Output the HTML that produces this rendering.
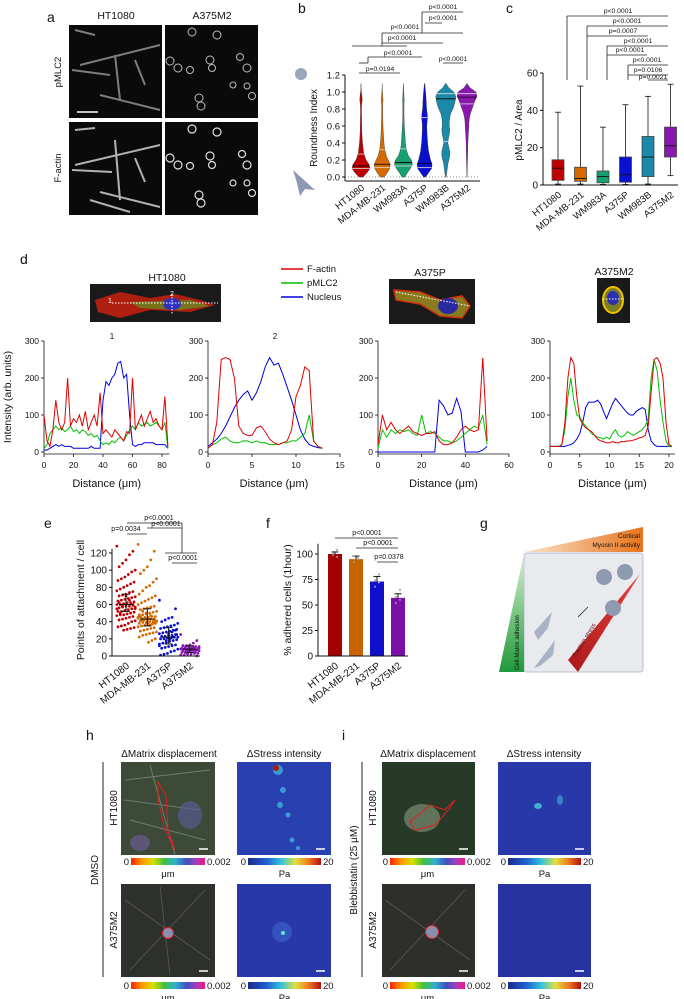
<!DOCTYPE html>
<html><head><meta charset="utf-8"><style>
html,body{margin:0;padding:0;background:#fff;}
svg{display:block;font-family:"Liberation Sans",Arial,sans-serif;}
text{fill:#111;}
</style></head><body>
<svg id="fig" width="684" height="999" viewBox="0 0 684 999" xmlns="http://www.w3.org/2000/svg">
<defs>
<linearGradient id="gDisp" x1="0" x2="1" y1="0" y2="0"><stop offset="0" stop-color="#ff2000"/><stop offset="0.15" stop-color="#ff9900"/><stop offset="0.3" stop-color="#d8e000"/><stop offset="0.45" stop-color="#40c040"/><stop offset="0.6" stop-color="#30b0d0"/><stop offset="0.75" stop-color="#4050c0"/><stop offset="0.88" stop-color="#a040c0"/><stop offset="1" stop-color="#ff1080"/></linearGradient>
<linearGradient id="gStress" x1="0" x2="1" y1="0" y2="0"><stop offset="0" stop-color="#1a2a8c"/><stop offset="0.25" stop-color="#2060d0"/><stop offset="0.45" stop-color="#30c0e0"/><stop offset="0.65" stop-color="#e0e040"/><stop offset="0.82" stop-color="#f08020"/><stop offset="1" stop-color="#b01010"/></linearGradient>
<linearGradient id="gOrange" x1="0" x2="1"><stop offset="0" stop-color="#fbe3cc"/><stop offset="1" stop-color="#e8741a"/></linearGradient>
<linearGradient id="gGreen" x1="0" x2="0" y1="0" y2="1"><stop offset="0" stop-color="#d7f0d0"/><stop offset="1" stop-color="#1f9a3a"/></linearGradient>
<linearGradient id="gRed" x1="1" x2="0" y1="0" y2="1"><stop offset="0" stop-color="#e84040"/><stop offset="1" stop-color="#a81818"/></linearGradient>
</defs>

<g font-size="14">
<text x="47" y="22">a</text>
<text x="298" y="13">b</text>
<text x="506" y="13">c</text>
<text x="20" y="264">d</text>
<text x="44" y="528">e</text>
<text x="266" y="528">f</text>
<text x="480" y="528">g</text>
<text x="86" y="740">h</text>
<text x="342" y="740">i</text>
</g>

<g>
<text x="116" y="19" font-size="10.5" text-anchor="middle">HT1080</text>
<text x="212" y="19" font-size="10.5" text-anchor="middle">A375M2</text>
<text transform="translate(61,72) rotate(-90)" font-size="9.5" text-anchor="middle">pMLC2</text>
<text transform="translate(61,168) rotate(-90)" font-size="9.5" text-anchor="middle">F-actin</text>
<g>
<rect x="69" y="25" width="93" height="93" fill="#0a0a0a"/>
<g stroke="#9a9a9a" stroke-width="2" fill="none" opacity="0.8"><path d="M80 65 L160 45"/><path d="M115 55 L120 100"/><path d="M72 70 L110 75"/><path d="M100 95 L160 110"/><path d="M135 60 L145 85"/><path d="M75 30 L95 35"/></g>
<line x1="77" y1="112" x2="98" y2="112" stroke="#fff" stroke-width="1.5"/>
</g>
<g>
<rect x="165" y="25" width="93" height="93" fill="#0a0a0a"/>
<g stroke="#bbb" stroke-width="1" fill="none"><circle cx="192" cy="32" r="4"/><circle cx="217" cy="35" r="4"/><circle cx="170" cy="61" r="4"/><circle cx="178" cy="68" r="4"/><circle cx="190" cy="70" r="3.5"/><circle cx="210" cy="60" r="4"/><circle cx="212" cy="68" r="3.5"/><circle cx="240" cy="57" r="3.5"/><circle cx="247" cy="68" r="4"/><circle cx="233" cy="85" r="3"/><circle cx="247" cy="86" r="3"/><circle cx="252" cy="96" r="3.5"/><circle cx="199" cy="98" r="4"/><circle cx="201" cy="106" r="4"/></g>
</g>
<g>
<rect x="69" y="122" width="93" height="93" fill="#0a0a0a"/>
<g stroke="#d0d0d0" stroke-width="2" fill="none" opacity="0.85"><path d="M75 165 L160 145"/><path d="M115 140 L120 200"/><path d="M72 170 L112 172"/><path d="M100 192 L160 207"/><path d="M135 158 L145 182"/><path d="M75 130 L95 128"/><path d="M90 200 L130 212"/></g>
</g>
<g>
<rect x="165" y="122" width="93" height="93" fill="#0a0a0a"/>
<g stroke="#e0e0e0" stroke-width="1.2" fill="none"><circle cx="192" cy="129" r="4"/><circle cx="217" cy="132" r="4"/><circle cx="170" cy="158" r="4"/><circle cx="178" cy="165" r="4"/><circle cx="190" cy="166" r="3.5"/><circle cx="210" cy="156" r="4"/><circle cx="212" cy="165" r="3.5"/><circle cx="242" cy="154" r="3.5"/><circle cx="247" cy="165" r="4"/><circle cx="233" cy="183" r="3"/><circle cx="247" cy="183" r="3"/><circle cx="252" cy="193" r="3.5"/><circle cx="199" cy="195" r="4"/><circle cx="201" cy="203" r="4"/></g>
</g>
</g>

<g>
<circle cx="301" cy="74" r="6" fill="#9aa6bd"/>
<path d="M293 170 L315 190 L305 189 L300 196 L297 183 Z" fill="#8c98b4"/>
</g>
<g id="panelB"></g>
<g id="panelC"></g>

<g>
<text x="167" y="281" font-size="10.5" text-anchor="middle">HT1080</text>
<g>
<rect x="90" y="284" width="131" height="38" fill="#1a1a1a"/>
<path d="M95 300 L120 292 L150 298 L175 294 L200 300 L215 305 L190 312 L150 310 L120 318 L98 312 Z" fill="#c02010" opacity="0.9"/>
<path d="M130 302 L190 300 L210 306 L180 310 L140 308 Z" fill="#6a8a20" opacity="0.8"/>
<ellipse cx="172" cy="304" rx="9" ry="6" fill="#3030c0"/>
<line x1="112" y1="303" x2="218" y2="303" stroke="#fff" stroke-dasharray="1.5,1.5" stroke-width="1"/>
<line x1="172" y1="294" x2="172" y2="314" stroke="#fff" stroke-dasharray="1.5,1.5" stroke-width="1"/>
<text x="108" y="303" font-size="7" style="fill:#fff">1</text>
<text x="170" y="296" font-size="7" style="fill:#fff">2</text>
</g>
<g>
<line x1="281" y1="269" x2="303" y2="269" stroke="#e00000" stroke-width="1.5"/>
<text x="307" y="272" font-size="9.5">F-actin</text>
<line x1="281" y1="283" x2="303" y2="283" stroke="#00c000" stroke-width="1.5"/>
<text x="307" y="286" font-size="9.5">pMLC2</text>
<line x1="281" y1="297" x2="303" y2="297" stroke="#0000e0" stroke-width="1.5"/>
<text x="307" y="300" font-size="9.5">Nucleus</text>
</g>
<text x="430" y="276" font-size="10.5" text-anchor="middle">A375P</text>
<g>
<rect x="389" y="279" width="86" height="45" fill="#1a1a1a"/>
<path d="M394 290 L420 292 L440 300 L462 296 L470 306 L462 318 L440 316 L420 304 L396 300 Z" fill="#8a7a20" stroke="#d03010" stroke-width="1.5"/>
<ellipse cx="448" cy="306" rx="10" ry="8" fill="#2a2aa0"/>
<line x1="396" y1="292" x2="470" y2="306" stroke="#fff" stroke-dasharray="1.5,1.5"/>
</g>
<text x="614" y="275" font-size="10.5" text-anchor="middle">A375M2</text>
<g>
<rect x="597" y="278" width="33" height="45" fill="#1a1a1a"/>
<ellipse cx="613" cy="300" rx="10" ry="13" fill="#7a8020" stroke="#f0c000" stroke-width="2"/>
<ellipse cx="613" cy="298" rx="6" ry="7" fill="#2a30b0"/>
<line x1="603" y1="299" x2="624" y2="299" stroke="#fff" stroke-dasharray="1.5,1.5"/>
</g>
<text x="112" y="339" font-size="8" text-anchor="middle">1</text>
<text x="275" y="339" font-size="8" text-anchor="middle">2</text>
<text transform="translate(11,397) rotate(-90)" font-size="10.5" text-anchor="middle">Intensity (arb. units)</text>
</g>
<g id="panelD"></g>
<g id="panelE"></g>
<g id="panelF"></g>

<g>
<polygon points="524,552 643,527 643,552" fill="url(#gOrange)"/>
<text x="640" y="538" font-size="6.5" text-anchor="end">Cortical</text>
<text x="640" y="547" font-size="6.5" text-anchor="end">Myosin II activity</text>
<rect x="524" y="553" width="119" height="119" rx="3" fill="#e9eaee" stroke="#b8c0d0"/>
<polygon points="499,672 524,553 524,672" fill="url(#gGreen)"/>
<text transform="translate(519,670) rotate(-90)" font-size="6">Cell-Matrix adhesion</text>
<polygon points="568,660 640,574 578,672" fill="url(#gRed)"/>
<text transform="translate(575,658) rotate(-58)" font-size="6" style="fill:#5a1010">Traction stress</text>
<g fill="#8d9ab0"><circle cx="604" cy="577" r="8"/><circle cx="625" cy="572" r="8"/><circle cx="613" cy="608" r="8"/></g>
<g fill="#a8b2c4"><path d="M534 632 L552 612 L548 628 L538 640 Z"/><path d="M534 668 L555 640 L553 655 L540 666 Z"/></g>
<line x1="578" y1="617" x2="588" y2="607" stroke="#222" stroke-width="0.8"/>
</g>

<g font-size="10">
<text x="169" y="757" text-anchor="middle">ΔMatrix displacement</text>
<text x="284" y="757" text-anchor="middle">ΔStress intensity</text>
<line x1="103" y1="762" x2="103" y2="977" stroke="#222"/>
<text transform="translate(98,870) rotate(-90)" text-anchor="middle">DMSO</text>
<text transform="translate(117,808) rotate(-90)" text-anchor="middle">HT1080</text>
<text transform="translate(117,930) rotate(-90)" text-anchor="middle">A375M2</text>
<g><rect x="121" y="762" width="94" height="93" fill="#3d4a38"/><g stroke="#8aa090" stroke-width="1" opacity="0.6" fill="none"><path d="M125 780 L210 770"/><path d="M130 820 L205 840"/><path d="M150 765 L175 855"/><path d="M124 800 L200 810"/></g><ellipse cx="190" cy="815" rx="12" ry="14" fill="#5a5a90" opacity="0.7"/><ellipse cx="140" cy="843" rx="10" ry="8" fill="#6a5a90" opacity="0.7"/><path d="M158 782 L166 795 L168 830 L175 850 L165 830 L158 800 Z" fill="none" stroke="#e02020"/><line x1="199" y1="849" x2="208" y2="849" stroke="#fff" stroke-width="1.5"/></g>
<g><rect x="237" y="762" width="94" height="93" fill="#2840b0"/><g fill="#40b0e0" opacity="0.8"><circle cx="278" cy="770" r="5"/><circle cx="283" cy="790" r="3"/><circle cx="280" cy="805" r="3"/><circle cx="288" cy="815" r="2.5"/><circle cx="292" cy="840" r="2.5"/><circle cx="298" cy="848" r="2"/></g><circle cx="276" cy="768" r="3" fill="#a02010"/><line x1="316" y1="849" x2="325" y2="849" stroke="#fff" stroke-width="1.5"/></g>
<g><rect x="121" y="884" width="94" height="93" fill="#2e302c"/><g stroke="#777" stroke-width="0.8" opacity="0.6"><path d="M125 900 L210 960"/><path d="M130 970 L205 890"/><path d="M160 886 L170 975"/></g><circle cx="168" cy="933" r="5.5" fill="#8890b0" stroke="#e02020"/><line x1="199" y1="971" x2="208" y2="971" stroke="#fff" stroke-width="1.5"/></g>
<g><rect x="237" y="884" width="94" height="93" fill="#2838a8"/><circle cx="282" cy="932" r="10" fill="#3a60c8" opacity="0.7"/><circle cx="283" cy="933" r="2" fill="#60e0e0"/><line x1="316" y1="971" x2="325" y2="971" stroke="#fff" stroke-width="1.5"/></g>
</g>
<g font-size="10">
<text x="428" y="757" text-anchor="middle">ΔMatrix displacement</text>
<text x="544" y="757" text-anchor="middle">ΔStress intensity</text>
<line x1="362" y1="762" x2="362" y2="977" stroke="#222"/>
<text transform="translate(357,870) rotate(-90)" text-anchor="middle">Blebbistatin (25 μM)</text>
<text transform="translate(376,808) rotate(-90)" text-anchor="middle">HT1080</text>
<text transform="translate(376,930) rotate(-90)" text-anchor="middle">A375M2</text>
<g><rect x="382" y="762" width="93" height="93" fill="#273a27"/><ellipse cx="422" cy="818" rx="18" ry="14" fill="#8a9a80" opacity="0.6"/><path d="M410 822 L430 805 L445 810 L455 800 L450 808 L435 825 L415 830 Z" fill="none" stroke="#e02020"/><line x1="459" y1="849" x2="468" y2="849" stroke="#fff" stroke-width="1.5"/></g>
<g><rect x="498" y="762" width="93" height="93" fill="#2838a8"/><ellipse cx="538" cy="806" rx="4" ry="3" fill="#40b0d0"/><ellipse cx="560" cy="800" rx="3" ry="5" fill="#3a80c8"/><line x1="575" y1="849" x2="584" y2="849" stroke="#fff" stroke-width="1.5"/></g>
<g><rect x="382" y="884" width="93" height="93" fill="#2e2f2b"/><g stroke="#777" stroke-width="0.8" opacity="0.6"><path d="M385 900 L470 960"/><path d="M390 970 L465 890"/></g><circle cx="432" cy="932" r="6.5" fill="#8890b0" stroke="#e02020"/><line x1="459" y1="971" x2="468" y2="971" stroke="#fff" stroke-width="1.5"/></g>
<g><rect x="498" y="884" width="93" height="93" fill="#2532a0"/><line x1="575" y1="971" x2="584" y2="971" stroke="#fff" stroke-width="1.5"/></g>
</g>
<g id="colorbars" font-size="9.5"></g>

<script>
// ---------- Panel b data ----------
const bCategories = ["HT1080","MDA-MB-231","WM983A","A375P","WM983B","A375M2"];
const bLevels = [0,0.05,0.1,0.15,0.2,0.25,0.3,0.35,0.4,0.45,0.5,0.55,0.6,0.65,0.7,0.75,0.8,0.85,0.9,0.95,1.0,1.05,1.1];
const bDensHT1080 = [2,6,9,8,5,3.5,2.5,2,1.5,1.2,1,0.8,0.7,0.6,0.6,0.5,0.5,0.6,1.2,1.0,0.4,0.1,0];
const bDensMDA = [2,5,7.5,8,6,4,3,2.2,1.8,1.5,1.2,1,0.8,0.7,0.6,0.5,0.5,0.5,0.8,0.6,0.3,0.1,0];
const bDensWM983A = [1.5,4,7,9,8,5,3.5,2.5,2,1.8,1.5,1.2,1,0.8,0.7,0.6,0.6,0.6,0.8,0.6,0.4,0.2,0];
const bDensA375P = [1,4,7,7.5,6,5,4,3.5,3,2.8,2.5,2.3,2.2,2.5,3,2.6,2,1.8,1.6,1.3,1,0.6,0.2];
const bDensWM983B = [0.3,1,1.5,2,3,4,4,3,2,2.5,3.5,4,3.5,3.5,4,5,7,8.5,9.5,10,8,3,0.3];
const bDensA375M2 = [0.1,0.2,0.3,0.4,0.5,0.6,0.7,0.8,0.9,1.1,1.3,1.6,1.8,2,2.5,3.5,5,6.5,8,10,9,3,0];
const bMedians = [0.13,0.15,0.17,0.16,0.92,0.94];
const bQ1 = [0.10,0.11,0.13,0.11,0.42,0.86];
const bQ3 = [0.27,0.32,0.33,0.70,0.98,0.98];
const bTicks = [0,0.2,0.4,0.6,0.8,1.0,1.2];
const colors = ["#c00000","#d46a00","#18a070","#0a10d0","#1a8aa8","#8a18b0"];

// ---------- Panel c data ----------
const cCategories = ["HT1080","MDA-MB-231","WM983A","A375P","WM983B","A375M2"];
const cMin = [0.5,0.5,0.3,0.3,0.5,5];
const cQ1 = [2.5,2,1.2,1.5,4.5,15];
const cMed = [9,3.5,4.5,5.5,15,21];
const cQ3 = [13.5,9.5,7.5,15,26,31];
const cMax = [39,53,31,43,47.5,54];
const cTicks = [0,20,40,60];

// ---------- Panel d data ----------
const d1Step = 2;
const d1Red = [100,30,15,60,140,80,60,80,200,70,90,80,100,70,110,60,80,100,70,160,50,60,50,40,60,50,40,30,55,50,200,60,80,100,70,90,110,80,90,70,60,150,15];
const d1Green = [10,20,50,60,70,60,65,55,60,70,55,60,50,60,55,45,50,40,45,30,20,25,20,30,25,35,40,30,45,60,70,60,80,70,75,80,70,75,80,70,60,80,10];
const d1Blue = [5,5,10,15,20,15,20,15,15,15,10,10,10,10,10,10,15,10,10,10,140,190,180,200,210,240,245,200,210,100,20,15,20,20,25,25,25,25,20,20,20,20,10];
const d2Step = 0.5;
const d2Red = [10,20,80,250,255,250,200,70,50,45,45,65,70,55,35,25,20,25,30,60,150,180,230,220,30,15,10];
const d2Green = [10,20,25,35,40,30,25,25,30,30,25,30,25,25,20,20,20,25,25,30,30,40,50,100,30,15,10];
const d2Blue = [15,25,35,50,70,95,120,140,155,165,140,160,190,230,255,235,240,210,175,140,100,60,35,20,15,12,10];
const d3Step = 2;
const d3Red = [20,100,60,80,60,50,60,70,55,50,45,50,50,55,30,20,20,25,40,60,70,60,55,60,255,30];
const d3Green = [10,60,40,60,50,60,55,60,50,45,100,50,55,50,40,30,30,25,30,40,50,60,70,65,100,20];
const d3Blue = [0,0,0,0,0,0,0,0,0,0,0,0,0,0,140,125,100,105,145,110,0,0,0,0,5,15];
const d4Step = 0.5;
const d4Red = [15,15,15,15,20,80,200,255,240,150,90,75,65,60,55,45,35,30,28,25,25,28,25,25,28,28,30,30,32,35,38,40,45,70,160,250,255,240,200,80,20,15];
const d4Green = [15,15,15,15,20,60,150,200,140,100,95,80,70,60,50,45,40,38,35,40,35,50,60,45,40,45,55,50,45,50,55,60,70,90,200,250,220,140,80,30,15,15];
const d4Blue = [15,15,15,15,15,15,18,20,25,35,50,80,120,135,135,135,140,130,110,90,110,130,145,135,125,115,105,100,100,110,115,120,115,60,30,20,15,15,15,15,15,15];
const dYTicks = [0,100,200,300];
const d1XTicks = [0,20,40,60,80];
const d2XTicks = [0,5,10,15];
const d3XTicks = [0,20,40,60];
const d4XTicks = [0,5,10,15,20];

// ---------- Panel e data ----------
const eCategories = ["HT1080","MDA-MB-231","A375P","A375M2"];
const eHT1080 = [128,122,118,112,108,104,100,98,95,92,90,88,86,84,82,80,78,76,75,74,72,71,70,69,68,67,66,65,64,63,62,62,61,60,60,59,58,58,57,56,55,55,54,53,52,52,51,50,49,48,48,47,46,45,44,43,42,41,40,38,36,35,34,33,32,31,30,50,55,60,65,70,58,62,57];
const eMDA = [130,122,112,104,100,96,90,86,82,80,76,72,70,68,66,64,62,60,58,57,56,55,54,52,51,50,49,48,47,46,46,45,45,44,44,43,43,42,42,41,41,40,40,39,39,38,38,37,37,36,35,34,33,32,31,30,29,28,27,26,25,24,22,20,18,16,44,42,45,41,47,39,43,46,40,38,36,50,52,48];
const eA375P = [65,55,45,44,42,40,38,36,35,34,33,32,31,30,29,28,27,26,25,24,24,23,23,22,22,21,21,20,20,19,18,17,16,15,14,13,12,11,10,9,8,6,5,3,2,1,25,22,20,18,15,12,30,28,26];
const eA375M2 = [25,18,15,13,12,12,11,11,10,10,10,9,9,9,8,8,8,8,7,7,7,6,6,6,5,5,5,4,4,3,3,2,2,1,1,0,10,8,6,12,9,7];
const eMedian = [60,43,22,8];
const eLow = [52,35,14,4];
const eHigh = [72,55,33,12];
const eTicks = [0,20,40,60,80,100,120];

// ---------- Panel f data ----------
const fCategories = ["HT1080","MDA-MB-231","A375P","A375M2"];
const fMeans = [100,95,73,57];
const fSem = [2,3,5,4];
const fReps1 = [101,97,99,104];
const fReps2 = [92,97,98,95];
const fReps3 = [68,72,74,80];
const fReps4 = [52,55,58,65];
const fTicks = [0,25,50,75,100];

const NS = "http://www.w3.org/2000/svg";
function mk(tag, attrs, parent){ const el=document.createElementNS(NS,tag); for(const k in attrs) el.setAttribute(k,attrs[k]); parent.appendChild(el); return el; }
function txt(str, attrs, parent){ const t=mk("text",attrs,parent); t.textContent=str; return t; }
const FS = "9.5";

// ===== Panel b =====
(function(){
  const g=document.getElementById("panelB");
  const ax=345, xEnd=480;
  const y=v=>177-v*85;
  const x=i=>361+i*21.2;
  const dens=[bDensHT1080,bDensMDA,bDensWM983A,bDensA375P,bDensWM983B,bDensA375M2];
  let l=mk("line",{x1:ax,y1:y(0),x2:xEnd,y2:y(0),stroke:"#888","stroke-dasharray":"1,2"},g);
  
  
  dens.forEach((d,i)=>{
    let pts=[];
    d.forEach((w,k)=>pts.push([x(i)+w,y(bLevels[k])]));
    for(let k=d.length-1;k>=0;k--) pts.push([x(i)-d[k],y(bLevels[k])]);
    const p=mk("path",{d:"M"+pts.map(q=>q[0].toFixed(1)+" "+q[1].toFixed(1)).join(" L")+" Z",fill:colors[i],stroke:"#333","stroke-width":"0.4"},g);
    
    
    const interp=v=>{const k=Math.min(d.length-2,Math.floor(v/0.05));const f=(v-bLevels[k])/0.05;return d[k]+(d[k+1]-d[k])*f;};
    [[bQ1[i],"#ddd"],[bQ3[i],"#ddd"],[bMedians[i],"#000"]].forEach(([v,c],j)=>{
      const w=interp(v);
      const ln=mk("line",{x1:x(i)-w,x2:x(i)+w,y1:y(v),y2:y(v),stroke:c,"stroke-width":"0.8"},g);
      
      
    });
    const t=txt(bCategories[i],{x:x(i)+4,y:189,"font-size":FS,"text-anchor":"end",transform:`rotate(-38 ${x(i)+4} 189)`},g);
    
    
  });
  l=mk("line",{x1:ax,y1:y(1.2),x2:ax,y2:y(0)+4,stroke:"#111"},g);
  
  
  l=mk("line",{x1:ax,y1:y(0)+4,x2:xEnd,y2:y(0)+4,stroke:"#111"},g);
  
  
  bTicks.forEach(v=>{
    mk("line",{x1:ax-3,x2:ax,y1:y(v),y2:y(v),stroke:"#111"},g);
    const t=txt(v.toFixed(1),{x:ax-5,y:y(v)+3.5,"font-size":FS,"text-anchor":"end"},g);
    
    
  });
  const tt=txt("Roundness Index",{transform:"translate(317,128) rotate(-90)","font-size":"10","text-anchor":"middle"},g);
  
  
  const seg=[[422,12,463,12],[422,12,422,33],[425,23,442,23],[382,33,463,33],[382,33,382,46],[382,43,443,43],[352,46,407,46],[368,57,422,57],[368,57,368,63],[359,63,368,63],[359,73,400,73],[443,63,463,63]];
  seg.forEach(s=>{const a=mk("line",{x1:s[0],y1:s[1],x2:s[2],y2:s[3],stroke:"#222","stroke-width":"0.8"},g);});
  const pv=[["p<0.0001",443,9],["p<0.0001",443,20],["p<0.0001",405,29],["p<0.0001",402,40],["p<0.0001",398,55],["p=0.0194",380,71],["p<0.0001",453,61]];
  pv.forEach(p=>{const a=txt(p[0],{x:p[1],y:p[2],"font-size":"6.8","text-anchor":"middle"},g);});
})();

// ===== Panel c =====
(function(){
  const g=document.getElementById("panelC");
  const ax=543, xEnd=678;
  const y=v=>185-v*(112/60);
  const x=i=>558+i*22.5;
  cCategories.forEach((c,i)=>{
    const w=mk("line",{x1:x(i),x2:x(i),y1:y(cMin[i]),y2:y(cMax[i]),stroke:"#111","stroke-width":"0.8"},g);
    
    
    [cMin[i],cMax[i]].forEach(v=>mk("line",{x1:x(i)-3,x2:x(i)+3,y1:y(v),y2:y(v),stroke:"#111","stroke-width":"0.8"},g));
    const b=mk("rect",{x:x(i)-6,y:y(cQ3[i]),width:12,height:y(cQ1[i])-y(cQ3[i]),fill:colors[i],stroke:"#444","stroke-width":"0.8"},g);
    
    
    const m=mk("line",{x1:x(i)-6,x2:x(i)+6,y1:y(cMed[i]),y2:y(cMed[i]),stroke:"#111","stroke-width":"0.9"},g);
    
    
    const t=txt(c,{x:x(i)+4,y:196,"font-size":FS,"text-anchor":"end",transform:`rotate(-38 ${x(i)+4} 196)`},g);
    
    
  });
  let l=mk("line",{x1:ax,y1:y(60),x2:ax,y2:y(0),stroke:"#111"},g);
  
  
  l=mk("line",{x1:ax,y1:y(0),x2:xEnd,y2:y(0),stroke:"#111"},g);
  
  
  cTicks.forEach(v=>{
    mk("line",{x1:ax-3,x2:ax,y1:y(v),y2:y(v),stroke:"#111"},g);
    const t=txt(String(v),{x:ax-5,y:y(v)+3.5,"font-size":"10","text-anchor":"end"},g);
    
    
  });
  const tt=txt("pMLC2 / Area",{transform:"translate(522,130) rotate(-90)","font-size":"10","text-anchor":"middle"},g);
  
  
  const seg=[[567,16,668,16],[567,16,567,80],[587,26,668,26],[587,26,587,80],[587,36,648,36],[607,46,668,46],[607,46,607,80],[607,55,647,55],[628,65,668,65],[628,65,628,80],[628,75,668,75],[648,80,668,80]];
  seg.forEach(s=>{const a=mk("line",{x1:s[0],y1:s[1],x2:s[2],y2:s[3],stroke:"#222","stroke-width":"0.8"},g);});
  const pv=[["p<0.0001",618,13],["p<0.0001",627,23],["p=0.0007",623,33],["p<0.0001",638,43],["p<0.0001",630,52],["p<0.0001",647,62],["p=0.0106",648,72],["p=0.0021",653,79]];
  pv.forEach(p=>{const a=txt(p[0],{x:p[1],y:p[2],"font-size":"6.8","text-anchor":"middle"},g);});
})();

// ===== Panel d =====
(function(){
  const g=document.getElementById("panelD");
  const y=v=>452-v*(111/300);
  const plots=[
    {x0:44,ppu:1.475,xMax:85,ticks:d1XTicks,step:d1Step,r:d1Red,gr:d1Green,b:d1Blue},
    {x0:208,ppu:8.8,xMax:15,ticks:d2XTicks,step:d2Step,r:d2Red,gr:d2Green,b:d2Blue},
    {x0:378,ppu:2.183,xMax:60,ticks:d3XTicks,step:d3Step,r:d3Red,gr:d3Green,b:d3Blue},
    {x0:550,ppu:5.95,xMax:21,ticks:d4XTicks,step:d4Step,r:d4Red,gr:d4Green,b:d4Blue}
  ];
  plots.forEach((p,pi)=>{
    const x=v=>p.x0+v*p.ppu;
    let l=mk("line",{x1:p.x0,y1:y(300),x2:p.x0,y2:y(0)+2,stroke:"#111","stroke-width":"0.8"},g);
    
    
    l=mk("line",{x1:p.x0,y1:y(0)+2,x2:x(p.xMax),y2:y(0)+2,stroke:"#111","stroke-width":"0.8"},g);
    
    
    dYTicks.forEach(v=>{
      mk("line",{x1:p.x0-3,x2:p.x0,y1:y(v),y2:y(v),stroke:"#111","stroke-width":"0.8"},g);
      const t=txt(String(v),{x:p.x0-5,y:y(v)+3,"font-size":"8.5","text-anchor":"end"},g);
      
      
    });
    p.ticks.forEach(v=>{
      mk("line",{x1:x(v),x2:x(v),y1:y(0)+2,y2:y(0)+5,stroke:"#111","stroke-width":"0.8"},g);
      const t=txt(String(v),{x:x(v),y:468,"font-size":"8.5","text-anchor":"middle"},g);
      
      
    });
    const dl=txt("Distance (μm)",{x:p.x0+(x(p.xMax)-p.x0)/2,y:487,"font-size":"11","text-anchor":"middle"},g);
    
    
    [[p.b,"#0000e0","nucleus"],[p.gr,"#00c000","pmlc2"],[p.r,"#e00000","factin"]].forEach(([arr,c,n])=>{
      const d=arr.map((v,k)=>(k?"L":"M")+x(k*p.step).toFixed(1)+" "+y(v).toFixed(1)).join(" ");
      const path=mk("path",{d:d,fill:"none",stroke:c,"stroke-width":"1"},g);
      
      
    });
  });
})();

// ===== Panel e =====
(function(){
  const g=document.getElementById("panelE");
  const ax=112, xEnd=200;
  const y=v=>656-v*(103/120);
  const x=i=>126+i*21.3;
  const groups=[eHT1080,eMDA,eA375P,eA375M2];
  groups.forEach((arr,i)=>{
    arr.forEach((v,k)=>{
      const jit=(((k*7919)%17)-8)*1.15;
      const c=mk("circle",{cx:x(i)+jit,cy:y(v),r:1.4,fill:colors[[0,1,3,5][i]]},g);
      
      
    });
    const m=mk("line",{x1:x(i)-7,x2:x(i)+7,y1:y(eMedian[i]),y2:y(eMedian[i]),stroke:"#111","stroke-width":"1"},g);
    
    
    const e=mk("line",{x1:x(i),x2:x(i),y1:y(eLow[i]),y2:y(eHigh[i]),stroke:"#111","stroke-width":"1"},g);
    
    
    [eLow[i],eHigh[i]].forEach(v=>mk("line",{x1:x(i)-4,x2:x(i)+4,y1:y(v),y2:y(v),stroke:"#111","stroke-width":"1"},g));
    const t=txt(eCategories[i],{x:x(i)+4,y:667,"font-size":"10","text-anchor":"end",transform:`rotate(-38 ${x(i)+4} 667)`},g);
    
    
  });
  let l=mk("line",{x1:ax,y1:y(125),x2:ax,y2:y(0),stroke:"#111"},g);
  
  
  l=mk("line",{x1:ax,y1:y(0),x2:xEnd,y2:y(0),stroke:"#111"},g);
  
  
  eTicks.forEach(v=>{
    mk("line",{x1:ax-3,x2:ax,y1:y(v),y2:y(v),stroke:"#111"},g);
    const t=txt(String(v),{x:ax-5,y:y(v)+3.5,"font-size":"10","text-anchor":"end"},g);
    
    
  });
  const tt=txt("Points of attachment / cell",{transform:"translate(84,600) rotate(-90)","font-size":"10.5","text-anchor":"middle"},g);
  
  
  const seg=[[127,523,182,523],[147,528,182,528],[182,523,182,553],[165,553,197,553],[127,534,147,534],[172,563,197,563]];
  seg.forEach(s=>{const a=mk("line",{x1:s[0],y1:s[1],x2:s[2],y2:s[3],stroke:"#222","stroke-width":"0.8"},g);});
  const pv=[["p<0.0001",159,520],["p<0.0001",166,526],["p=0.0034",126,531],["p<0.0001",183,560]];
  pv.forEach(p=>{const a=txt(p[0],{x:p[1],y:p[2],"font-size":"7","text-anchor":"middle"},g);});
})();

// ===== Panel f =====
(function(){
  const g=document.getElementById("panelF");
  const ax=318, xEnd=408;
  const y=v=>656-v*(102/100);
  const x=i=>335+i*21;
  const fcol=["#a30000","#c86400","#1010cc","#7a10a8"];
  const reps=[fReps1,fReps2,fReps3,fReps4];
  fMeans.forEach((v,i)=>{
    const b=mk("rect",{x:x(i)-7,y:y(v),width:14,height:y(0)-y(v),fill:fcol[i]},g);
    
    
    const e=mk("line",{x1:x(i),x2:x(i),y1:y(v),y2:y(v+fSem[i]),stroke:"#111"},g);
    
    
    mk("line",{x1:x(i)-3.5,x2:x(i)+3.5,y1:y(v+fSem[i]),y2:y(v+fSem[i]),stroke:"#111"},g);
    reps[i].forEach((r,k)=>{
      const c=mk("circle",{cx:x(i)+(k%2?2:-2),cy:y(r),r:1,fill:"#999"},g);
      
      
    });
    const t=txt(fCategories[i],{x:x(i)+4,y:667,"font-size":"10","text-anchor":"end",transform:`rotate(-38 ${x(i)+4} 667)`},g);
    
    
  });
  let l=mk("line",{x1:ax,y1:y(110),x2:ax,y2:y(0),stroke:"#111"},g);
  
  
  l=mk("line",{x1:ax,y1:y(0),x2:xEnd,y2:y(0),stroke:"#111"},g);
  
  
  fTicks.forEach(v=>{
    mk("line",{x1:ax-3,x2:ax,y1:y(v),y2:y(v),stroke:"#111"},g);
    const t=txt(String(v),{x:ax-5,y:y(v)+3.5,"font-size":"10","text-anchor":"end"},g);
    
    
  });
  const tt=txt("% adhered cells (1hour)",{transform:"translate(291,600) rotate(-90)","font-size":"10.5","text-anchor":"middle"},g);
  
  
  const seg=[[335,538,398,538],[356,548,398,548],[377,562,398,562]];
  seg.forEach(s=>{const a=mk("line",{x1:s[0],y1:s[1],x2:s[2],y2:s[3],stroke:"#222","stroke-width":"0.8"},g);});
  const pv=[["p<0.0001",367,535],["p<0.0001",378,545],["p=0.0378",389,559]];
  pv.forEach(p=>{const a=txt(p[0],{x:p[1],y:p[2],"font-size":"7","text-anchor":"middle"},g);});
})();

// ===== Colorbars =====
(function(){
  const g=document.getElementById("colorbars");
  const bars=[
    [131,205,858,"gDisp","0","0.002","μm"],[248,321,858,"gStress","0","20","Pa"],
    [131,205,982,"gDisp","0","0.002","μm"],[248,321,982,"gStress","0","20","Pa"],
    [390,465,858,"gDisp","0","0.002","μm"],[508,581,858,"gStress","0","20","Pa"],
    [390,465,982,"gDisp","0","0.002","μm"],[508,581,982,"gStress","0","20","Pa"]
  ];
  bars.forEach(b=>{
    const r=mk("rect",{x:b[0],y:b[2],width:b[1]-b[0],height:7,fill:"url(#"+b[3]+")"},g);
    
    
    const t0=txt(b[4],{x:b[0]-2,y:b[2]+7,"text-anchor":"end"},g);
    
    
    const t1=txt(b[5],{x:b[1]+2,y:b[2]+7},g);
    
    
    const t2=txt(b[6],{x:(b[0]+b[1])/2,y:b[2]+19,"text-anchor":"middle"},g);
    
    
  });
})();
</script>
</svg>
</body></html>
